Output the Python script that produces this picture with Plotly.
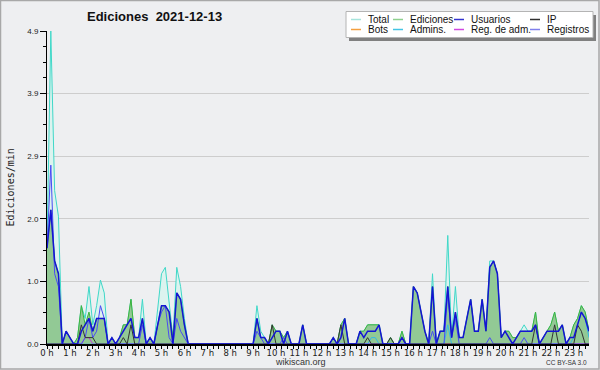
import plotly.graph_objects as go

# ---------------- data (10-minute steps, edits per minute) ----------------
TOTAL = [
    1.5, 4.9, 2.4, 2.0, 0, 0.2,
    0.1, 0, 0.1, 0.6, 0.4, 0.9,
    0.3, 0.6, 1.0, 0.8, 0, 0.1,
    0, 0.1, 0.3, 0.3, 0.7, 0.1,
    0.1, 0.7, 0, 0.1, 0, 0.6,
    1.1, 1.2, 0.6, 0.1, 1.2, 0.9,
    0.4, 0, 0, 0, 0, 0,
    0, 0, 0, 0, 0, 0,
    0, 0, 0, 0, 0, 0,
    0, 0.6, 0.2, 0.1, 0, 0.3,
    0.2, 0.2, 0.1, 0.2, 0, 0,
    0, 0.3, 0, 0, 0, 0,
    0, 0, 0, 0.1, 0, 0.3,
    0.4, 0, 0, 0, 0.2, 0.2,
    0.3, 0.3, 0.3, 0.3, 0, 0,
    0.1, 0, 0, 0.2, 0, 0,
    0.9, 0.8, 0.5, 0.2, 0, 1.1,
    0, 0.2, 0.2, 1.7, 0.1, 0.9,
    0.1, 0.1, 0.4, 0.7, 0.2, 0.2,
    0.7, 0.2, 1.3, 1.3, 1.1, 0.1,
    0.2, 0.2, 0.1, 0.1, 0.2, 0.3,
    0.2, 0.2, 0.5, 0, 0.1, 0.2,
    0.3, 0.5, 0.2, 0.3, 0, 0.1,
    0.3, 0.4, 0.6, 0.5, 0.2,
]
EDICIONES = [
    1.5, 2.1, 1.3, 1.1, 0, 0.2,
    0.1, 0, 0.1, 0.6, 0.3, 0.5,
    0.2, 0.4, 0.4, 0.4, 0, 0.1,
    0, 0.1, 0.3, 0.3, 0.7, 0.1,
    0.1, 0.4, 0, 0.1, 0, 0.3,
    0.6, 0.6, 0.5, 0.1, 0.8, 0.7,
    0.3, 0, 0, 0, 0, 0,
    0, 0, 0, 0, 0, 0,
    0, 0, 0, 0, 0, 0,
    0, 0.4, 0.1, 0.1, 0, 0.3,
    0.2, 0.2, 0.1, 0.2, 0, 0,
    0, 0.3, 0, 0, 0, 0,
    0, 0, 0, 0.1, 0, 0.3,
    0.4, 0, 0, 0, 0.2, 0.2,
    0.3, 0.3, 0.3, 0.3, 0, 0,
    0.1, 0, 0, 0.2, 0, 0,
    0.9, 0.8, 0.5, 0.2, 0, 0.9,
    0, 0.2, 0.2, 0.9, 0.1, 0.5,
    0.1, 0.1, 0.4, 0.7, 0.2, 0.2,
    0.7, 0.2, 1.2, 1.3, 1.1, 0.1,
    0.2, 0.2, 0.1, 0.1, 0.2, 0.2,
    0.2, 0.2, 0.5, 0, 0.1, 0.2,
    0.3, 0.5, 0.2, 0.3, 0, 0.1,
    0.3, 0.4, 0.6, 0.5, 0.2,
]
USUARIOS = [
    1.5, 2.1, 1.3, 1.1, 0, 0.2,
    0.1, 0, 0, 0.2, 0.3, 0.4,
    0.2, 0.4, 0.4, 0.4, 0, 0.1,
    0, 0.1, 0.2, 0.3, 0.4, 0.1,
    0.1, 0.4, 0, 0.1, 0, 0.3,
    0.6, 0.6, 0.5, 0, 0.8, 0.7,
    0.3, 0, 0, 0, 0, 0,
    0, 0, 0, 0, 0, 0,
    0, 0, 0, 0, 0, 0,
    0, 0.4, 0.1, 0.1, 0, 0.1,
    0.2, 0.2, 0, 0.2, 0, 0,
    0, 0.3, 0, 0, 0, 0,
    0, 0, 0, 0.1, 0, 0.1,
    0.4, 0, 0, 0, 0.2, 0.1,
    0.2, 0.2, 0.2, 0.3, 0, 0,
    0, 0, 0, 0.1, 0, 0,
    0.9, 0.8, 0.5, 0.2, 0, 0.9,
    0, 0.2, 0.2, 0.9, 0.1, 0.5,
    0.1, 0.1, 0.4, 0.7, 0.2, 0.2,
    0.7, 0.2, 1.2, 1.3, 1.1, 0.1,
    0.2, 0.1, 0, 0.1, 0.2, 0.2,
    0.2, 0.2, 0.3, 0, 0.1, 0.2,
    0.2, 0.2, 0.2, 0.3, 0, 0.1,
    0.1, 0.3, 0.5, 0.4, 0.2,
]
IP = [
    0, 0, 0, 0, 0, 0,
    0, 0, 0, 0.3, 0.1, 0.1,
    0.1, 0, 0, 0, 0, 0,
    0, 0, 0.1, 0, 0.3, 0,
    0, 0, 0, 0, 0, 0,
    0, 0, 0, 0, 0, 0,
    0, 0, 0, 0, 0, 0,
    0, 0, 0, 0, 0, 0,
    0, 0, 0, 0, 0, 0,
    0, 0, 0, 0, 0, 0.3,
    0, 0, 0, 0, 0, 0,
    0, 0, 0, 0, 0, 0,
    0, 0, 0, 0, 0, 0.3,
    0, 0, 0, 0, 0, 0,
    0.1, 0, 0, 0, 0, 0,
    0.1, 0, 0, 0.1, 0, 0,
    0, 0, 0, 0, 0, 0,
    0, 0, 0, 0, 0, 0,
    0, 0, 0, 0, 0, 0,
    0, 0, 0, 0, 0, 0,
    0, 0, 0, 0, 0, 0,
    0, 0, 0.3, 0, 0, 0,
    0, 0.3, 0, 0, 0, 0,
    0, 0.3, 0.2, 0, 0,
]
BOTS = [
    0, 0, 0, 0, 0, 0,  0, 0, 0, 0, 0, 0,  0, 0, 0, 0, 0, 0,  0, 0, 0, 0, 0, 0,
    0, 0, 0, 0, 0, 0,  0, 0, 0, 0, 0, 0,  0, 0, 0, 0, 0, 0,  0, 0, 0, 0, 0, 0,
    0, 0, 0, 0, 0, 0,  0, 0, 0, 0, 0, 0,  0, 0, 0, 0, 0, 0,  0, 0, 0, 0, 0, 0,
    0, 0, 0, 0, 0, 0,  0, 0, 0, 0, 0, 0,  0, 0, 0, 0, 0, 0,  0, 0, 0, 0, 0, 0,
    0, 0, 0, 0, 0, 0,  0, 0, 0, 0, 0, 0,  0, 0, 0, 0, 0, 0,  0, 0, 0, 0, 0, 0,
    0, 0, 0, 0, 0, 0,  0, 0, 0, 0, 0, 0,  0, 0, 0, 0, 0, 0,  0, 0, 0, 0, 0,
]
ADMINS = [
    0, 0, 0, 0, 0, 0,  0, 0, 0, 0, 0, 0,  0, 0, 0, 0, 0, 0,  0, 0, 0, 0, 0, 0,
    0, 0, 0, 0, 0, 0,  0, 0, 0, 0, 0, 0,  0, 0, 0, 0, 0, 0,  0, 0, 0, 0, 0, 0,
    0, 0, 0, 0, 0, 0,  0, 0, 0, 0, 0, 0,  0, 0, 0, 0, 0, 0,  0, 0, 0, 0, 0, 0,
    0, 0, 0, 0, 0, 0,  0, 0, 0, 0, 0, 0,  0, 0.1, 0.1, 0, 0, 0,  0, 0, 0, 0, 0, 0,
    0, 0, 0, 0, 0, 0,  0, 0, 0, 0.3, 0, 0,  0, 0, 0, 0, 0, 0,  0, 0, 0, 0, 0, 0,
    0, 0, 0, 0, 0, 0,  0, 0, 0, 0, 0, 0,  0, 0, 0, 0, 0, 0,  0.1, 0.3, 0.5, 0.4, 0.1,
]
REG_ADM = [
    0, 0, 0, 0, 0, 0,  0, 0, 0, 0, 0.1, 0.1,  0, 0, 0, 0, 0, 0,  0, 0, 0, 0, 0, 0,
    0, 0, 0, 0, 0, 0,  0, 0, 0, 0, 0, 0,  0, 0, 0, 0, 0, 0,  0, 0, 0, 0, 0, 0,
    0, 0, 0, 0, 0, 0,  0, 0, 0, 0, 0, 0,  0, 0, 0, 0, 0, 0,  0, 0, 0, 0, 0, 0,
    0, 0, 0, 0, 0, 0,  0, 0, 0, 0, 0, 0,  0, 0, 0, 0, 0, 0,  0, 0, 0, 0, 0, 0,
    0, 0, 0, 0, 0, 0,  0, 0, 0, 0, 0, 0,  0, 0, 0, 0, 0, 0,  0, 0, 0, 0, 0, 0,
    0, 0, 0, 0, 0, 0,  0, 0, 0, 0, 0, 0,  0, 0, 0, 0, 0, 0,  0, 0, 0, 0, 0,
]
REGISTROS = [
    1.5, 2.8, 1.1, 0.9, 0, 0,
    0, 0, 0, 0, 0.1, 0.4,
    0.1, 0.2, 0.6, 0.4, 0, 0,
    0, 0, 0, 0, 0, 0,
    0, 0.3, 0, 0, 0, 0.3,
    0.5, 0.6, 0.1, 0, 0.4, 0.2,
    0.1, 0, 0, 0, 0, 0,
    0, 0, 0, 0, 0, 0,
    0, 0, 0, 0, 0, 0,
    0, 0.2, 0.1, 0, 0, 0,
    0, 0, 0.1, 0, 0, 0,
    0, 0, 0, 0, 0, 0,
    0, 0, 0, 0, 0, 0,
    0, 0, 0, 0, 0, 0,
    0, 0, 0, 0, 0, 0,
    0, 0, 0, 0, 0, 0,
    0, 0, 0, 0, 0, 0.2,
    0, 0, 0, 0.8, 0.1, 0.4,
    0, 0, 0, 0, 0, 0,
    0, 0, 0.1, 0, 0, 0,
    0, 0, 0, 0, 0, 0.1,
    0, 0, 0, 0, 0, 0,
    0, 0, 0, 0, 0, 0,
    0, 0, 0, 0, 0,
]

HOUR_TICKS = list(range(24))
HOUR_LABELS = ["0 h", "1 h", "2 h", "3 h", "4 h", "5 h", "6 h", "7 h", "8 h", "9 h",
               "10 h", "11 h", "12 h", "13 h", "14 h", "15 h", "16 h", "17 h", "18 h",
               "19 h", "20 h", "21 h", "22 h", "23 h"]
Y_TICKS = [0, 0.98, 1.96, 2.94, 3.92, 4.9]
Y_LABELS = ["0.0", "1.0", "2.0", "2.9", "3.9", "4.9"]

LEGEND_NAMES = ["Total", "Ediciones", "Usuarios", "IP",
                "Bots", "Admins.", "Reg. de adm.", "Registros"]
LEGEND_COLORS = ["#a6e4dc", "#8fd08f", "#3434d0", "#303030",
                 "#f4a040", "#44c4e4", "#d048e0", "#8080ec"]

TITLE = "Ediciones\u00a0 2021-12-13"

# ---------------- layout geometry ----------------
W, H = 600, 370
ML, MR, MT, MB = 47, 11, 31, 26
PW = W - ML - MR
PH = H - MT - MB


def px(x):
    return (x - ML) / PW


def py(y):
    return (H - MB - y) / PH


BG = "#eeeff1"
xs = [i / 6 for i in range(len(TOTAL))]

fig = go.Figure()


def line_trace(values, color, width=1.0, fill=None, fillcolor=None):
    return go.Scatter(x=xs, y=values, mode="lines", line=dict(color=color, width=width),
                      fill=fill, fillcolor=fillcolor, showlegend=False, hoverinfo="skip")


fig.add_trace(line_trace(TOTAL, "#3fd8c8", 1.0, "tozeroy", "#dcf3ef"))
fig.add_trace(line_trace(EDICIONES, "#3db43d", 1.0, "tozeroy", "#92c995"))
fig.add_trace(line_trace(BOTS, "#f4a040"))
fig.add_trace(line_trace(REG_ADM, "#c83cd8"))
fig.add_trace(line_trace(ADMINS, "#35b8e8"))
fig.add_trace(line_trace(REGISTROS, "#4a4af5"))
fig.add_trace(line_trace(IP, "#333333"))
fig.add_trace(line_trace(USUARIOS, "#1414d4", 1.5))

shapes = []
annotations = []

# outer frame
shapes.append(dict(type="rect", xref="paper", yref="paper",
                   x0=px(0.5), x1=px(599), y0=py(0.5), y1=py(369),
                   line=dict(color="#a8a8a8", width=1.5), fillcolor="rgba(0,0,0,0)", layer="below"))

# legend box with shadow
shapes.append(dict(type="rect", xref="paper", yref="paper",
                   x0=px(349), x1=px(596), y0=py(15), y1=py(41),
                   line=dict(width=0), fillcolor="#808080"))
shapes.append(dict(type="rect", xref="paper", yref="paper",
                   x0=px(346), x1=px(593), y0=py(11.5), y1=py(37.5),
                   line=dict(color="#b4b4b4", width=1), fillcolor="#ffffff"))
col_text_x = [366, 408, 469, 545]
row_y = [19.5, 29.5]
for k, name in enumerate(LEGEND_NAMES):
    c, r = k % 4, k // 4
    tx = col_text_x[c]
    yy = row_y[r]
    shapes.append(dict(type="line", xref="paper", yref="paper",
                       x0=px(tx - 15), x1=px(tx - 5), y0=py(yy), y1=py(yy),
                       line=dict(color=LEGEND_COLORS[k], width=1.5)))
    annotations.append(dict(text=name, xref="paper", yref="paper", x=px(tx), y=py(yy),
                            xanchor="left", yanchor="middle", showarrow=False,
                            font=dict(family="Liberation Sans", size=10, color="#111111")))

# title
annotations.append(dict(text="<b>" + TITLE + "</b>", xref="paper", yref="paper",
                        x=px(154), y=py(16.5), xanchor="center", yanchor="middle", showarrow=False,
                        font=dict(family="Liberation Sans", size=13, color="#111111")))
# y-axis title
annotations.append(dict(text="Ediciones/min", xref="paper", yref="paper",
                        x=px(9.5), y=py(188), xanchor="center", yanchor="middle", showarrow=False,
                        textangle=-90,
                        font=dict(family="DejaVu Sans Mono", size=10, color="#222222")))
# footer texts
annotations.append(dict(text="wikiscan.org", xref="paper", yref="paper",
                        x=px(300), y=py(362), xanchor="center", yanchor="middle", showarrow=False,
                        font=dict(family="Liberation Sans", size=9, color="#333333")))
annotations.append(dict(text="CC BY-SA 3.0", xref="paper", yref="paper",
                        x=px(589), y=py(362.5), xanchor="right", yanchor="middle", showarrow=False,
                        font=dict(family="Liberation Sans", size=6.5, color="#333333")))

fig.update_layout(
    width=W, height=H, autosize=False,
    margin=dict(l=ML, r=MR, t=MT, b=MB, pad=0),
    paper_bgcolor=BG, plot_bgcolor=BG,
    showlegend=False,
    shapes=shapes, annotations=annotations,
    xaxis=dict(range=[0, xs[-1]], showgrid=False, zeroline=False,
               showline=True, linecolor="#000000", linewidth=1.5,
               ticks="outside", ticklen=3, tickwidth=1, tickcolor="#000000",
               tickmode="array", tickvals=HOUR_TICKS, ticktext=HOUR_LABELS,
               tickfont=dict(family="DejaVu Sans", size=8.5, color="#222222"),
               ticklabelstandoff=-3,
               minor=dict(tickmode="linear", tick0=0, dtick=0.25, ticks="outside",
                          ticklen=3, tickcolor="#000000", showgrid=False),
               fixedrange=True),
    yaxis=dict(range=[0, 4.9], showgrid=True, gridcolor="#cdcdcd", gridwidth=1,
               zeroline=False, showline=True, linecolor="#000000", linewidth=1,
               ticks="outside", ticklen=6, tickwidth=1, tickcolor="#000000",
               tickmode="array", tickvals=Y_TICKS, ticktext=Y_LABELS,
               tickfont=dict(family="Liberation Sans", size=8, color="#222222"),
               minor=dict(tickmode="linear", tick0=0, dtick=0.245, ticks="outside",
                          ticklen=3, tickcolor="#000000", showgrid=False),
               fixedrange=True),
)

fig.write_html("out.html", config={"displayModeBar": False})
